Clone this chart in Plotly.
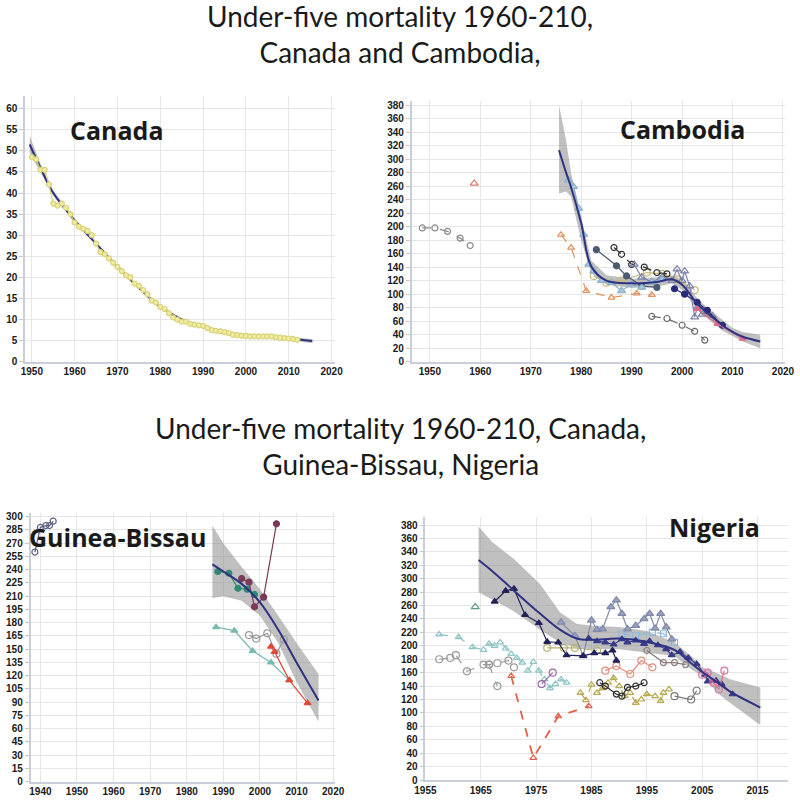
import plotly.graph_objects as go

# ---------------- Canada ----------------
canada_years = list(range(1950, 2013))
canada_u5mr = [48.5, 48, 45.5, 45.5, 42, 37.5, 37, 37.5, 36.5, 35, 33, 32, 31.5, 31, 30, 28, 26, 25.5,
               24.5, 23.5, 22.5, 21.5, 20.5, 20, 18.5, 18, 17, 16, 14.5, 14, 13, 12.5, 11.5, 10.5, 10,
               9.5, 9.5, 9, 8.8, 8.6, 8.5, 8, 7.5, 7.3, 7.2, 7, 6.8, 6.4, 6.3, 6.2, 6.1, 6, 6, 6, 6, 6,
               6, 5.8, 5.7, 5.6, 5.5, 5.4, 5.2]
canada_fit_years = [1949.5, 1952, 1955, 1960, 1965, 1970, 1975, 1980, 1985, 1990, 1995, 2000, 2005, 2010, 2015.5]
canada_fit = [51.5, 46, 40, 33.5, 28, 22.5, 17.5, 13, 10, 8.3, 7, 6.2, 5.9, 5.5, 4.9]
canada_fit_upper = [53.5, 47, 40.6, 34, 28.4, 22.8, 17.8, 13.3, 10.3, 8.6, 7.3, 6.5, 6.2, 5.8, 5.4]
canada_fit_lower = [49.5, 45, 39.4, 33, 27.6, 22.2, 17.2, 12.7, 9.7, 8, 6.7, 5.9, 5.6, 5.2, 4.4]

# ---------------- Cambodia ----------------
cam_fit_years = [1975.6, 1977, 1978, 1980, 1982, 1985, 1990, 1995, 1998, 2000, 2003, 2005, 2008, 2010, 2012, 2015.5]
cam_fit = [313, 280, 258, 205, 141, 120, 116, 118, 122, 114, 86, 72, 54, 44, 37, 30]
cam_fit_upper = [380, 328, 279, 215, 150, 128, 123, 125, 128, 122, 94, 80, 62, 50, 44, 40]
cam_fit_lower = [249, 252, 244, 180, 131, 114, 109, 111, 116, 106, 78, 64, 46, 38, 30, 20]

cam_s1_years = [1948.5, 1951, 1953.5, 1956, 1958]
cam_s1 = [198, 198, 193, 183, 172]
cam_s2_years = [1958.8]
cam_s2 = [264]
cam_s3_years = [1977.5, 1978.5, 1979.5, 1980.5, 1981.5, 1982.5, 1984, 1986, 1988, 1990, 1992, 1994, 1996]
cam_s3 = [269, 259, 227, 188, 144, 134, 120, 117, 105, 115, 110, 118, 122]
cam_s4_years = [1976, 1978, 1981, 1986, 1991, 1994]
cam_s4 = [188, 169, 105, 95, 101, 99]
cam_s5_years = [1983, 1987, 1989, 1992, 1995]
cam_s5 = [166, 142, 127, 112, 110]
cam_s6_years = [1986.5, 1988, 1990, 1992.5, 1995, 1997]
cam_s6 = [169, 159, 144, 140, 132, 130]
cam_s7_years = [1994, 1997, 2000, 2002.5, 2004.5]
cam_s7 = [67, 64, 54, 45, 32]
cam_s8_years = [1990.5, 1992, 1994, 1996, 1998, 1999, 2000, 2000.5, 2001.5, 2002.5, 2003, 2004, 2006]
cam_s8 = [144, 125, 118, 125, 120, 137, 120, 134, 112, 66, 80, 70, 68]
cam_s9_years = [1998.5, 2000.5, 2003, 2005, 2008]
cam_s9 = [108, 100, 88, 76, 54]
cam_s10_years = [2003, 2007, 2012]
cam_s10 = [78, 56, 34]
cam_s11_years = [1982.5, 1985, 1988, 1993, 1996, 1999, 2002.5]
cam_s11 = [127, 117, 120, 132, 130, 122, 106]

# ---------------- Guinea-Bissau ----------------
gb_fit_years = [1987, 1990, 1995, 2000, 2005, 2010, 2016]
gb_fit = [246, 238, 224, 203, 172, 135, 92]
gb_fit_upper = [290, 270, 243, 218, 188, 157, 122]
gb_fit_lower = [208, 210, 205, 188, 157, 113, 68]

gb_s1_years = [1938.5, 1940, 1941.5, 1942.5, 1943.5]
gb_s1 = [260, 288, 290, 290, 295]
gb_s2_years = [1988.5, 1991.5, 1994, 1996.5, 1998.5]
gb_s2 = [238, 236, 219, 218, 212]
gb_s3_years = [1995, 1997, 1998.5, 2001, 2004.5]
gb_s3 = [230, 226, 198, 209, 292]
gb_s4_years = [1988, 1993, 1998, 2003, 2008]
gb_s4 = [175, 171, 148, 135, 115]
gb_s5_years = [1997, 1999, 2002, 2004.5, 2006.5]
gb_s5 = [166, 162, 168, 145, 161]
gb_s6_years = [2003, 2004, 2008, 2013]
gb_s6 = [153, 147, 115, 89]

# ---------------- Nigeria ----------------
ng_fit_years = [1964.6, 1967, 1970.9, 1975.7, 1979.3, 1982.3, 1985, 1990, 1995, 2000, 2003, 2005, 2008, 2010, 2015.5]
ng_fit = [328, 312, 283, 248, 224, 211, 209, 211, 206, 194, 174, 161, 144, 132, 108]
ng_fit_upper = [378, 355, 330, 292, 250, 233, 230, 228, 222, 205, 185, 168, 158, 150, 138]
ng_fit_lower = [280, 270, 252, 224, 205, 197, 195, 195, 190, 185, 165, 155, 128, 115, 82]

ng_a1_years = [1967.5, 1969.5, 1971, 1973, 1975.5, 1977, 1979, 1980.5, 1983.5, 1985.5, 1987.5, 1988.8, 1989.5]
ng_a1 = [266, 282, 285, 246, 234, 206, 205, 186, 185, 189, 189, 193, 178]
ng_a2_years = [1984.5, 1986, 1987.5, 1989, 1990.5, 1991.5, 1993, 1994.5, 1995.5, 1997, 1998.5, 1999.5,
               2001, 2002.5, 2004, 2005.5, 2006, 2007.5, 2008.5, 2010.5]
ng_a2 = [211, 207, 205, 202, 210, 205, 208, 203, 207, 201, 195, 186, 191, 182, 173, 157, 147, 148, 143, 128]
ng_b0_years = [1964]
ng_b0 = [258]
ng_b_years = [1979.5, 1982, 1983.5, 1985, 1986, 1987, 1988.5, 1989.5, 1990.5, 1991.5, 1993, 1994.5, 1995.5,
              1996.5, 1997.5, 1998.5, 1999.5]
ng_b = [235, 215, 185, 238, 224, 225, 258, 268, 248, 225, 230, 240, 248, 226, 248, 228, 210]
ng_c_years = [1957.5, 1961, 1963.5, 1965.5, 1966.5, 1967.5, 1968.5, 1969.5, 1970.5, 1971.5, 1972.5, 1973.5,
              1974.5, 1975.5, 1976.5, 1977.5, 1978.5, 1979.5, 1980.5]
ng_c = [217, 213, 198, 194, 203, 200, 205, 196, 188, 182, 175, 163, 176, 163, 150, 137, 143, 150, 145]
ng_d_years = [1957.5, 1959.5, 1960.5, 1962.5, 1965.5, 1966.5, 1968, 1970, 1971]
ng_d = [180, 182, 186, 162, 172, 172, 174, 178, 168]
ng_d2_years = [1966.5, 1968]
ng_d2 = [172, 140]
ng_e_years = [1970.5, 1974.5, 1979, 1984.5]
ng_e = [155, 33, 95, 110]
ng_f_years = [1983, 1984, 1985, 1986, 1987, 1988, 1989, 1990, 1991, 1992, 1993, 1994, 1995, 1996.5, 1997.5, 1998, 1999]
ng_f = [130, 119, 142, 130, 137, 145, 152, 140, 125, 130, 115, 120, 128, 125, 118, 130, 135]
ng_g_years = [1986.5, 1987.5, 1989.5, 1990.5, 1991.5, 1993, 1994.5]
ng_g = [145, 140, 128, 125, 138, 140, 145]
ng_h_years = [1977, 1980, 1982, 1986]
ng_h = [197, 197, 197, 193]
ng_i_years = [1987.5, 1989.5, 1992, 1994, 1996]
ng_i = [163, 170, 158, 178, 168]
ng_j_years = [1976, 1978]
ng_j = [143, 160]
ng_k_years = [2000, 2003, 2004]
ng_k = [125, 120, 133]
ng_l_years = [2005, 2006, 2007, 2008, 2009]
ng_l = [157, 160, 145, 135, 163]
ng_m_years = [1990.5, 1993, 1996, 1998, 2000]
ng_m = [218, 215, 220, 218, 205]
ng_n_years = [1995, 1998, 2000, 2002]
ng_n = [193, 175, 175, 172]

FIT = '#2e3280'
BAND = 'rgba(140,140,140,0.55)'

fig = go.Figure()


def band(xs, up, lo, ax):
    fig.add_trace(go.Scatter(x=xs + xs[::-1], y=up + lo[::-1], fill='toself', fillcolor=BAND,
                             line=dict(width=0), mode='lines', hoverinfo='skip',
                             xaxis='x' + ax, yaxis='y' + ax))


def fitline(xs, ys, ax):
    fig.add_trace(go.Scatter(x=xs, y=ys, mode='lines', line=dict(color=FIT, width=2, shape='spline'),
                             xaxis='x' + ax, yaxis='y' + ax))


def series(xs, ys, ax, color, symbol='circle-open', dash='solid', size=6, width=1.2, fill=None):
    m = dict(symbol=symbol, size=size, color=fill if fill else color, line=dict(color=color, width=1.2))
    fig.add_trace(go.Scatter(x=xs, y=ys, mode='lines+markers', line=dict(color=color, width=width, dash=dash),
                             marker=m, xaxis='x' + ax, yaxis='y' + ax))


# Canada (axis '')
band(canada_fit_years, canada_fit_upper, canada_fit_lower, '')
fitline(canada_fit_years, canada_fit, '')
series(canada_years, canada_u5mr, '', '#d8d27a', symbol='circle', size=5, width=1.2, fill='#f0eca0')

# Cambodia (axis '2')
band(cam_fit_years, cam_fit_upper, cam_fit_lower, '2')
series(cam_s1_years, cam_s1, '2', '#8a8a8a', dash='dash')
series(cam_s2_years, cam_s2, '2', '#e07a6a', symbol='triangle-up-open', size=7)
series(cam_s4_years, cam_s4, '2', '#e0905a', symbol='triangle-up-open', dash='dash')
series(cam_s11_years, cam_s11, '2', '#c8b880', symbol='circle-open', size=7)
series(cam_s5_years, cam_s5, '2', '#4a5a70', symbol='circle', fill='#4a5a70')
series(cam_s6_years, cam_s6, '2', '#303030', symbol='circle-open', dash='dash')
series(cam_s7_years, cam_s7, '2', '#6a6a6a', symbol='circle-open', dash='dash')
series(cam_s8_years, cam_s8, '2', '#7a80a8', symbol='triangle-up-open', size=7)
series(cam_s3_years, cam_s3, '2', '#8ab0cc', symbol='triangle-up', fill='#a8c8dc', size=7)
series(cam_s9_years, cam_s9, '2', '#2a2a7a', symbol='circle', fill='#2a2a7a')
series(cam_s10_years, cam_s10, '2', '#e06a8a', symbol='triangle-up', fill='#e06a8a')
fitline(cam_fit_years, cam_fit, '2')

# Guinea-Bissau (axis '3')
band(gb_fit_years, gb_fit_upper, gb_fit_lower, '3')
series(gb_s1_years, gb_s1, '3', '#5a6080', symbol='circle-open')
series(gb_s4_years, gb_s4, '3', '#7ab8b0', symbol='triangle-up', fill='#7ab8b0')
series(gb_s5_years, gb_s5, '3', '#9a9a9a', symbol='circle-open', size=7)
series(gb_s2_years, gb_s2, '3', '#2f8a72', symbol='circle', fill='#2f8a72')
series(gb_s3_years, gb_s3, '3', '#7a3a5a', symbol='circle', fill='#7a3a5a')
series(gb_s6_years, gb_s6, '3', '#e04a3a', symbol='triangle-up', fill='#e04a3a')
fitline(gb_fit_years, gb_fit, '3')

# Nigeria (axis '4')
band(ng_fit_years, ng_fit_upper, ng_fit_lower, '4')
series(ng_c_years, ng_c, '4', '#8ec4c4', symbol='triangle-up-open', dash='dash')
series(ng_d_years, ng_d, '4', '#9a9a9a', symbol='circle-open', dash='dash', size=7)
series(ng_d2_years, ng_d2, '4', '#9a9a9a', symbol='circle-open', dash='dash', size=7)
series(ng_j_years, ng_j, '4', '#9a6aa8', symbol='circle-open', size=7)
series(ng_e_years, ng_e, '4', '#e0604a', symbol='triangle-up-open', dash='dash', width=1.8)
series(ng_f_years, ng_f, '4', '#b8aa50', symbol='triangle-up-open', dash='dash')
series(ng_g_years, ng_g, '4', '#303030', symbol='circle-open')
series(ng_h_years, ng_h, '4', '#b8b070', symbol='circle-open', size=7)
series(ng_i_years, ng_i, '4', '#e09080', symbol='circle-open', size=7)
series(ng_k_years, ng_k, '4', '#7a7a7a', symbol='circle-open', size=7)
series(ng_n_years, ng_n, '4', '#8a7a7a', symbol='circle-open')
series(ng_m_years, ng_m, '4', '#8ab8e0', symbol='square-open', dash='dash')
series(ng_b0_years, ng_b0, '4', '#5a9a8a', symbol='triangle-up-open', size=7)
series(ng_b_years, ng_b, '4', '#8088a8', symbol='triangle-up', fill='#9aa0c0', size=7)
series(ng_a1_years, ng_a1, '4', '#22225a', symbol='triangle-up', fill='#22225a')
series(ng_a2_years, ng_a2, '4', '#3a3a8a', symbol='triangle-up', fill='#3a3a8a')
series(ng_l_years, ng_l, '4', '#e070a0', symbol='circle-open', size=7)
fitline(ng_fit_years, ng_fit, '4')

TICKFONT = dict(family='Liberation Sans, Arial', size=10, color='#1a1a1a', weight='bold')
GRID = '#e6e6e6'
AXLINE = '#c9ceda'


def xax(dom, rng, dtick, tick0, anchor):
    return dict(domain=dom, range=rng, dtick=dtick, tick0=tick0, showgrid=True, gridcolor=GRID,
                zeroline=False, showline=True, linecolor=AXLINE, linewidth=1.5, ticks='',
                tickfont=TICKFONT, anchor=anchor, automargin=False)


def yax(dom, rng, dtick, anchor):
    return dict(domain=dom, range=rng, dtick=dtick, tick0=0, showgrid=True, gridcolor=GRID,
                zeroline=False, showline=True, linecolor=AXLINE, linewidth=1.5, ticks='outside',
                ticklen=4, tickcolor='#c8c8c8', tickfont=TICKFONT, anchor=anchor, automargin=False)


H = 801.0
W = 800.0

fig.update_layout(
    width=800, height=801,
    margin=dict(l=0, r=0, t=0, b=0, pad=0, autoexpand=False),
    paper_bgcolor='white', plot_bgcolor='white',
    showlegend=False,
    xaxis=xax([25 / W, 335 / W], [1948.4, 2020.8], 10, 1950, 'y'),
    yaxis=yax([1 - 361.7 / H, 1 - 96 / H], [0, 63], 5, 'x'),
    xaxis2=xax([411.7 / W, 785 / W], [1946.4, 2020.4], 10, 1950, 'y2'),
    yaxis2=yax([1 - 361.7 / H, 1 - 101 / H], [0, 386], 20, 'x2'),
    xaxis3=xax([30.5 / W, 335 / W], [1937.3, 2020.5], 10, 1940, 'y3'),
    yaxis3=yax([1 - 781.7 / H, 1 - 513.2 / H], [0, 304], 15, 'x3'),
    xaxis4=xax([425.4 / W, 788 / W], [1955, 2020.5], 10, 1955, 'y4'),
    yaxis4=yax([1 - 780 / H, 1 - 517 / H], [0, 392], 20, 'x4'),
)

TITLEFONT = dict(family='Lato, Open Sans, sans-serif', size=28, color='#1a1a1a')
LABELFONT = dict(family='Open Sans, Lato, sans-serif', size=25, color='#1a1a1a', weight='bold')


def ann(text, x, y, font, xanchor='center'):
    fig.add_annotation(text=text, x=x / W, y=1 - y / H, xref='paper', yref='paper', showarrow=False,
                       font=font, xanchor=xanchor, yanchor='middle')


ann('Under-five mortality 1960-210,<br>Canada and Cambodia,', 400, 34, TITLEFONT)
ann('Under-five mortality 1960-210, Canada,<br>Guinea-Bissau, Nigeria', 400, 446, TITLEFONT)
ann('Canada', 68, 130, LABELFONT, 'left')
ann('Cambodia', 618, 129, LABELFONT, 'left')
ann('Guinea-Bissau', 27, 537, LABELFONT, 'left')
ann('Nigeria', 667, 527, LABELFONT, 'left')

fig.write_html('out.html', config={'displayModeBar': False},
               post_script="document.body.style.margin='0px';")
